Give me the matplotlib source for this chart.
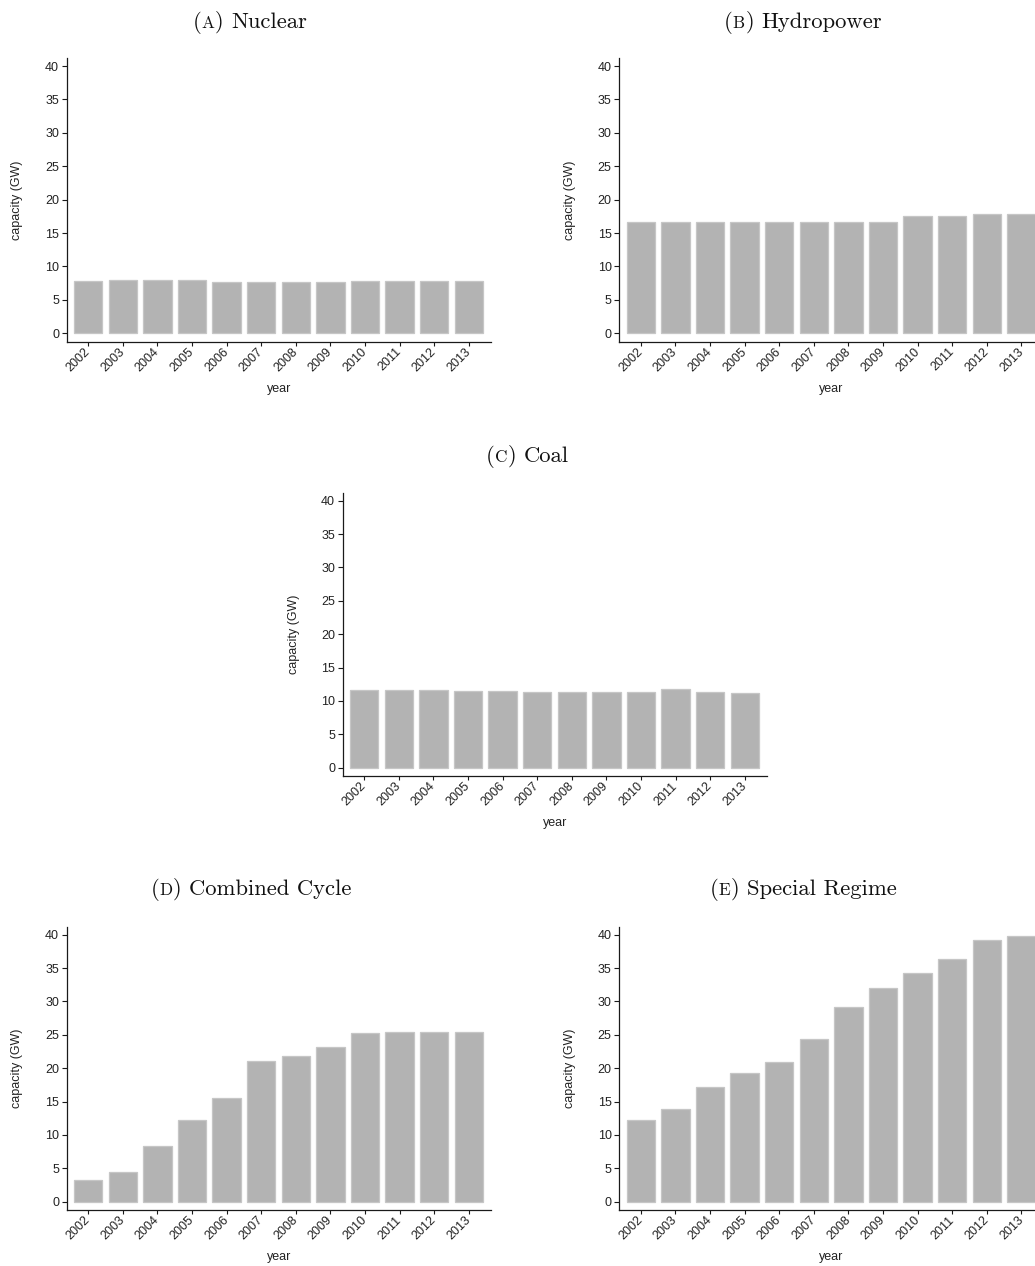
import matplotlib
matplotlib.use("Agg")
import matplotlib.pyplot as plt
import numpy as np

years = [str(y) for y in range(2002, 2014)]
nuclear = [7.8, 7.9, 7.9, 7.9, 7.7, 7.7, 7.7, 7.7, 7.8, 7.8, 7.8, 7.8]
hydropower = [16.7, 16.7, 16.7, 16.7, 16.7, 16.7, 16.7, 16.7, 17.6, 17.6, 17.8, 17.9]
coal = [11.7, 11.7, 11.7, 11.5, 11.5, 11.4, 11.4, 11.4, 11.4, 11.8, 11.3, 11.2]
combined_cycle = [3.2, 4.4, 8.3, 12.3, 15.6, 21.1, 21.8, 23.2, 25.3, 25.4, 25.45, 25.45]
special_regime = [12.3, 13.9, 17.2, 19.2, 20.9, 24.3, 29.1, 32.0, 34.3, 36.4, 39.2, 39.8]
yticks = [0, 5, 10, 15, 20, 25, 30, 35, 40]

W, H = 1035, 1266
fig = plt.figure(figsize=(W / 100, H / 100), dpi=100)

SANS = ["Liberation Sans", "DejaVu Sans"]
TXT = "#222222"
FS = 9.0

# (left_px, top_px, bottom_px, title_center_px, title_baseline_px, letter, name, data)
panels = [
    (66.7, 58.0, 341.7, 250, 28, "A", "Nuclear", nuclear),
    (619.3, 58.0, 341.7, 803, 28, "B", "Hydropower", hydropower),
    (342.7, 492.7, 776.0, 527.5, 461.5, "C", "Coal", coal),
    (66.7, 926.7, 1210.0, 251, 895, "D", "Combined Cycle", combined_cycle),
    (619.3, 926.7, 1210.0, 803, 895, "E", "Special Regime", special_regime),
]
AX_W = 424.0


def smallcap_title(xc, yb, letter, rest, size=16.3):
    parts = [("(", size), (letter, size * 0.76), (")", size), (rest, size)]
    gaps = [0.3, 0.5, 7.5, 0]
    texts = []
    for s, sz in parts:
        t = fig.text(0, 0, s, fontsize=sz, family="cmr10", va="baseline",
                     ha="left", color="#111111")
        texts.append(t)
    fig.canvas.draw()
    r = fig.canvas.get_renderer()
    widths = [t.get_window_extent(renderer=r).width for t in texts]
    total = sum(widths) + sum(gaps)
    x0 = xc - total / 2
    for t, w, g in zip(texts, widths, gaps):
        t.set_position((x0 / W, 1 - yb / H))
        x0 += w + g


for left, top, bottom, tcx, tby, letter, name, data in panels:
    hpx = bottom - top
    ax = fig.add_axes([left / W, 1 - bottom / H, AX_W / W, hpx / H])
    x = np.arange(len(years))
    ax.bar(x, data, width=0.82, color="#b3b3b3", edgecolor="#c6c6c6",
           linewidth=0.9, zorder=2)
    ax.set_xlim(-0.62, 11.63)
    ax.set_ylim(-1.26, 41.2)
    ax.set_yticks(yticks)
    ax.set_yticklabels([str(v) for v in yticks], family=SANS, fontsize=FS, color=TXT)
    ax.set_xticks(x)
    ax.set_xticklabels(years, family=SANS, fontsize=FS, color=TXT,
                       rotation=45, ha="right", va="center", rotation_mode="anchor")
    for s in ("top", "right"):
        ax.spines[s].set_visible(False)
    for s in ("left", "bottom"):
        ax.spines[s].set_linewidth(0.9)
        ax.spines[s].set_color("#1a1a1a")
    ax.tick_params(axis="y", direction="out", length=3.5, width=0.8, pad=2,
                   color="#1a1a1a")
    ax.tick_params(axis="x", direction="out", length=3.0, width=0.8, pad=3,
                   color="#1a1a1a")
    ax.set_ylabel("capacity (GW)", family=SANS, fontsize=FS, color=TXT)
    ax.yaxis.label.set_va("baseline")
    ax.yaxis.set_label_coords(-46.2 / AX_W, 0.5)
    ax.set_xlabel("year", family=SANS, fontsize=FS, color=TXT)
    ax.xaxis.label.set_va("baseline")
    ax.xaxis.set_label_coords(0.5, -(392 - 341.7) / hpx)
    ax.patch.set_visible(False)
    smallcap_title(tcx, tby, letter, name)

fig.savefig("out.png", dpi=100, facecolor="white")
